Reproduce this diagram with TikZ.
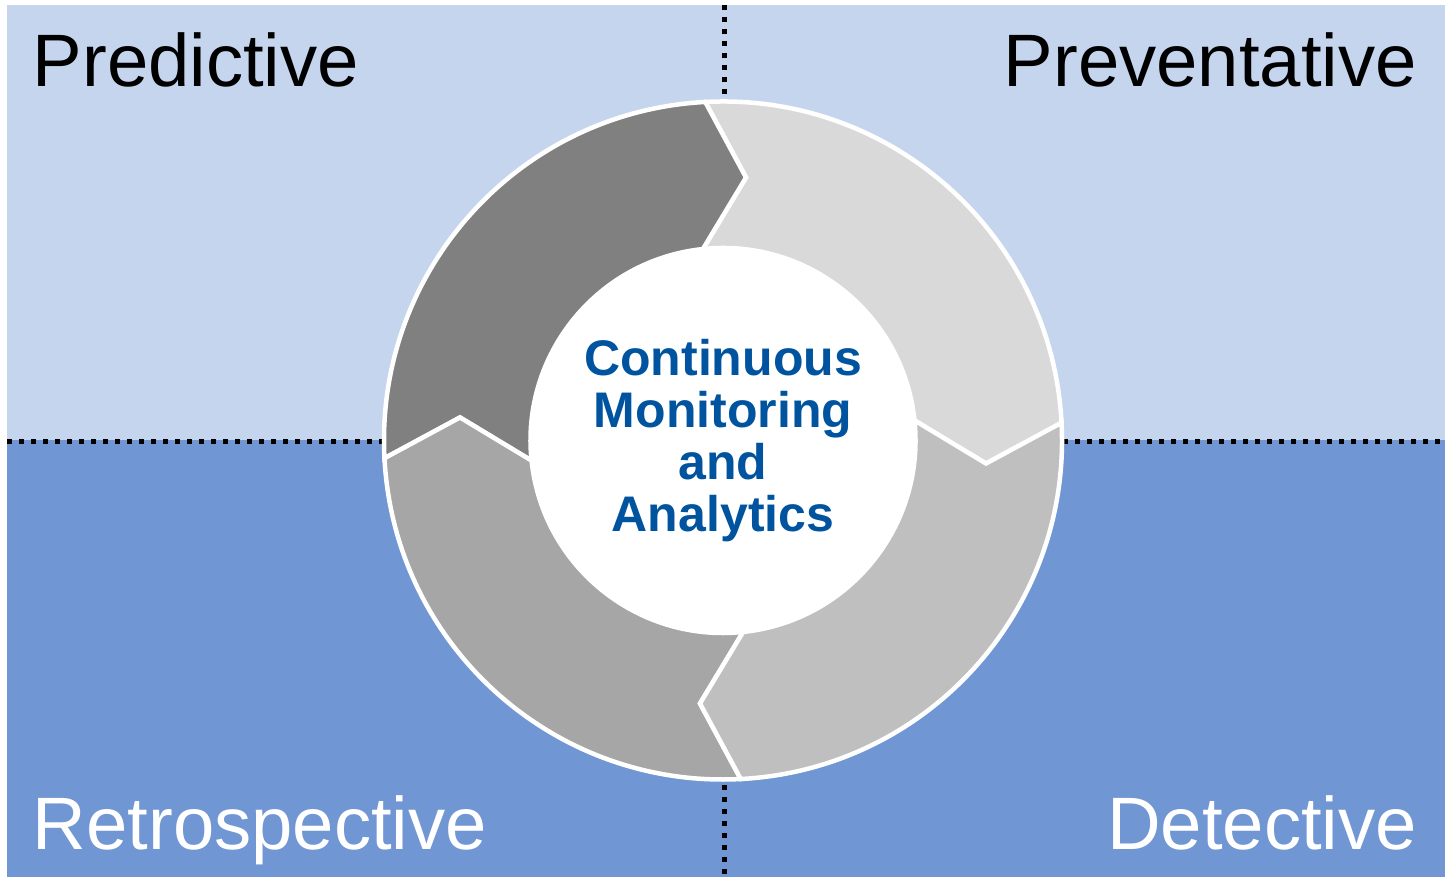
\documentclass[tikz,border=0pt]{standalone}
\usepackage{fontspec}
\setmainfont{Liberation Sans}
\begin{document}
\begin{tikzpicture}[x=1pt,y=1pt,
  dotline/.style={line width=5pt, dash pattern=on 5pt off 7pt, black},
  seg/.style={draw=white, line width=4.5pt, line join=miter},
  corner/.style={inner sep=0pt, font=\fontsize{74.3}{80}\selectfont},
  centertext/.style={inner sep=0pt, align=center, text=ctblue, font=\fontsize{50}{52}\selectfont\bfseries}]
\definecolor{topbg}{RGB}{197,213,238}
\definecolor{botbg}{RGB}{112,150,211}
\definecolor{ctblue}{RGB}{0,84,159}
\definecolor{segA}{RGB}{217,217,217}
\definecolor{segB}{RGB}{128,128,128}
\definecolor{segC}{RGB}{166,166,166}
\definecolor{segD}{RGB}{191,191,191}
\useasboundingbox (0,0) rectangle (1445,877);
% backgrounds
\fill[topbg] (7,436.5) rectangle (1445,872);
\fill[botbg] (7,0) rectangle (1445,436.5);
% dotted dividers
\coordinate (C) at (723,436.5);
\coordinate (vt) at (724,872);
\coordinate (vb) at (724,0);
\coordinate (hl) at (7,435.5);
\coordinate (hr) at (1445,435.5);
\draw[dotline] (vt) -- (vb);
\draw[dotline] (hl) -- (hr);
% ring segments
\begin{scope}[shift={(C)}]
\foreach \A/\col in {93/segA,183/segB,273/segC,3/segD}{
  \pgfmathsetmacro{\B}{\A-90}
  \filldraw[seg, fill=\col] (\A:339) arc[start angle=\A, end angle=\B, radius=339]
    -- ({\B-8}:264) -- ({\B+3}:192.5)
    arc[start angle={\B+3}, end angle={\A+3}, radius=192.5]
    -- ({\A-8}:264) -- cycle;
}
\end{scope}
\fill[white] (C) circle (194);
\node[centertext] (center) at (C) {Continuous\\Monitoring\\and\\Analytics};
% corner labels
\node[corner, anchor=base west] (pred) at (32.5,790) {Predictive};
\node[corner, anchor=base east] (prev) at (1417,790) {Preventative};
\node[corner, anchor=base west, text=white] (retro) at (32.5,27) {Retrospective};
\node[corner, anchor=base east, text=white] (det) at (1417,27) {Detective};
\end{tikzpicture}
\end{document}
